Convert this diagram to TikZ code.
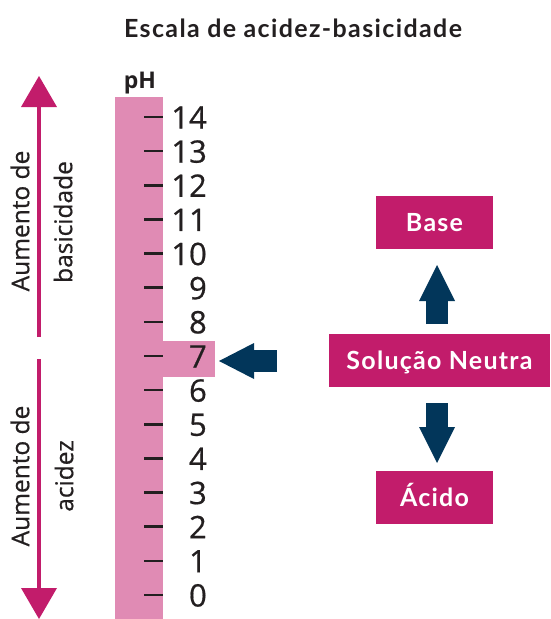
\documentclass[tikz,border=0pt]{standalone}
\usepackage{fontspec}
\setmainfont{Open Sans}
\newfontfamily\medfont[FakeBold=0.6]{Open Sans}
\newfontfamily\boxfont[LetterSpace=5]{Lato}
\newfontfamily\titlefont[LetterSpace=5.5]{Lato}
\usetikzlibrary{arrows.meta}
\definecolor{pinkbar}{HTML}{E08BB4}
\definecolor{mag}{HTML}{C21C6B}
\definecolor{navy}{HTML}{02365A}
\definecolor{ink}{HTML}{231F20}
\tikzset{
  tickline/.style={draw=ink,line width=2.6pt},
  num/.style={anchor=base east,inner sep=0pt,text=ink,font=\medfont\fontsize{31}{31}\selectfont},
  sidetext/.style={rotate=90,inner sep=0pt,text=ink,font=\medfont\fontsize{24.5}{24.5}\selectfont},
  magarrow/.style={draw=mag,line width=3.5pt,-{Triangle[width=36pt,length=31pt,line width=0pt]}},
  blockarrow/.style={draw=navy,line width=22pt,-{Triangle[width=36pt,length=36pt,line width=0pt]}},
  magbox/.style={fill=mag,text=white,inner sep=0pt,minimum height=53pt,text height=18pt,text depth=0pt,font=\boxfont\bfseries\fontsize{25}{25}\selectfont},
}
\begin{document}
\begin{tikzpicture}[x=1pt,y=-1pt]
\useasboundingbox (0,0) rectangle (550,619);
% title
\node[font=\titlefont\bfseries\fontsize{25}{25}\selectfont,text=ink,anchor=base,inner sep=0pt] (title) at (293,37) {Escala de acidez-basicidade};
% pH bar
\fill[pinkbar] (115,97) rectangle (163,619);
\fill[pinkbar] (163,341) rectangle (215,377);
\node[font=\bfseries\fontsize{23}{23}\selectfont,text=ink,anchor=base,inner sep=0pt] (ph) at (140,88) {pH};
\foreach \i in {0,...,14}{
  \pgfmathsetmacro\yy{595-34.14*\i}
  \draw[tickline] (144,\yy) -- (163,\yy);
  \node[num] (n\i) at (207,\yy+11.5) {\i};
}
% side arrows
\coordinate (upS) at (39,337);
\coordinate (upE) at (39,76);
\coordinate (dnS) at (39,359);
\coordinate (dnE) at (39,619);
\draw[magarrow] (upS) -- (upE);
\draw[magarrow] (dnS) -- (dnE);
\node[sidetext] (t1) at (20,221) {Aumento de};
\node[sidetext] (t2) at (63,222) {basicidade};
\node[sidetext] (t3) at (20,476) {Aumento de};
\node[sidetext] (t4) at (64,476) {acidez};
% boxes
\node[magbox,minimum width=117pt] (base) at (434.5,222.5) {Base};
\node[magbox,minimum width=221pt] (neutra) at (439.5,360.5) {Solução Neutra};
\node[magbox,minimum width=117pt] (acido) at (434.5,497) {Ácido};
% block arrows
\coordinate (a1s) at (437,324);
\coordinate (a1e) at (437,265);
\coordinate (a2s) at (437,403);
\coordinate (a2e) at (437,463);
\coordinate (a3s) at (277,361);
\coordinate (a3e) at (219,361);
\draw[blockarrow] (a1s) -- (a1e);
\draw[blockarrow] (a2s) -- (a2e);
\draw[blockarrow,-{Triangle[width=36pt,length=35pt,line width=0pt]}] (a3s) -- (a3e);
\end{tikzpicture}
\end{document}
